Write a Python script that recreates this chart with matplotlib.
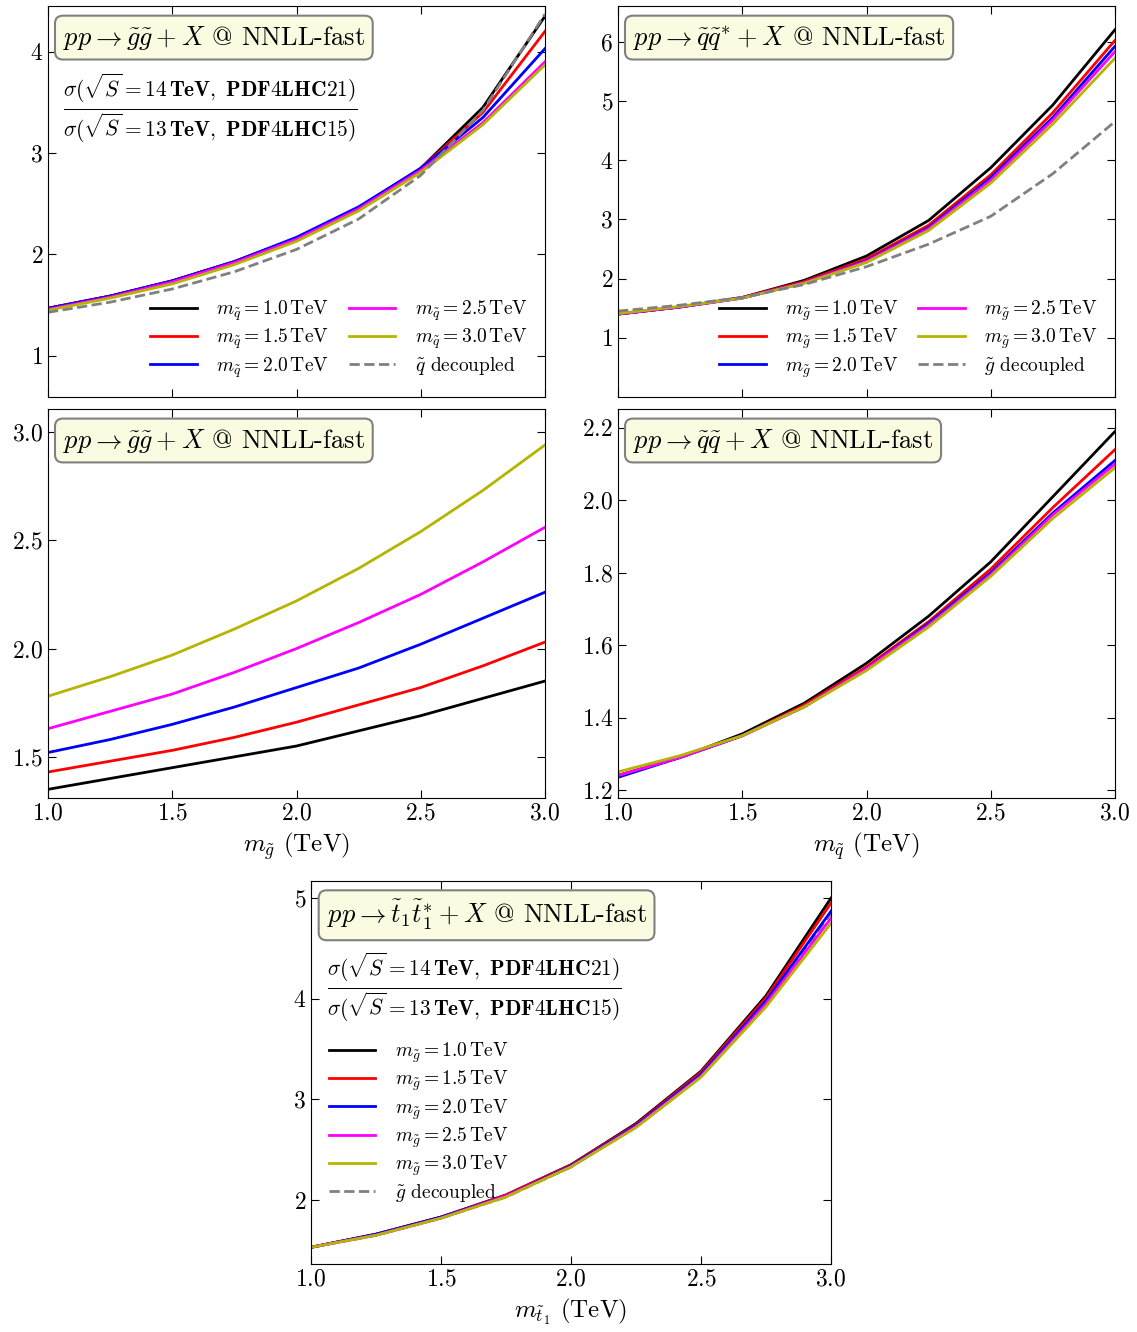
import matplotlib
matplotlib.use("Agg")
import matplotlib.pyplot as plt
import numpy as np

plt.rcParams['font.family'] = 'serif'
plt.rcParams['font.serif'] = ['cmr10']
plt.rcParams['mathtext.fontset'] = 'cm'
plt.rcParams['axes.formatter.use_mathtext'] = True

x = [1.0, 1.25, 1.5, 1.75, 2.0, 2.25, 2.5, 2.75, 3.0]
colors = ['black', 'red', 'blue', 'magenta', '#b5b500']
masses = ['1.0', '1.5', '2.0', '2.5', '3.0']

# gluino pair, vs gluino mass, lines = squark masses
gg_top = [
    [1.47, 1.59, 1.74, 1.93, 2.16, 2.46, 2.85, 3.45, 4.35],
    [1.47, 1.59, 1.74, 1.93, 2.16, 2.46, 2.85, 3.40, 4.20],
    [1.47, 1.59, 1.74, 1.93, 2.17, 2.47, 2.85, 3.35, 4.03],
    [1.46, 1.58, 1.73, 1.92, 2.15, 2.45, 2.83, 3.30, 3.90],
    [1.45, 1.57, 1.71, 1.90, 2.13, 2.43, 2.81, 3.28, 3.87],
]
gg_top_dec = [1.43, 1.53, 1.66, 1.83, 2.05, 2.35, 2.78, 3.42, 4.37]

# squark-antisquark, vs squark mass, lines = gluino masses
qqb_top = [
    [1.40, 1.52, 1.68, 1.97, 2.38, 2.98, 3.87, 4.93, 6.20],
    [1.40, 1.52, 1.68, 1.95, 2.33, 2.90, 3.75, 4.80, 6.02],
    [1.40, 1.52, 1.67, 1.93, 2.30, 2.86, 3.70, 4.72, 5.92],
    [1.40, 1.52, 1.67, 1.93, 2.29, 2.84, 3.66, 4.68, 5.83],
    [1.41, 1.53, 1.67, 1.92, 2.27, 2.81, 3.61, 4.61, 5.72],
]
qqb_top_dec = [1.45, 1.55, 1.68, 1.90, 2.20, 2.58, 3.05, 3.77, 4.65]

# gluino pair, vs squark mass, lines = gluino masses
gg_mid = [
    [1.35, 1.40, 1.45, 1.50, 1.55, 1.62, 1.69, 1.77, 1.85],
    [1.43, 1.48, 1.53, 1.59, 1.66, 1.74, 1.82, 1.92, 2.03],
    [1.52, 1.58, 1.65, 1.73, 1.82, 1.91, 2.02, 2.14, 2.26],
    [1.63, 1.71, 1.79, 1.89, 2.00, 2.12, 2.25, 2.40, 2.56],
    [1.78, 1.87, 1.97, 2.09, 2.22, 2.37, 2.54, 2.73, 2.94],
]

# squark-squark, vs squark mass, lines = gluino masses
qq_mid = [
    [1.24, 1.29, 1.355, 1.44, 1.55, 1.68, 1.83, 2.01, 2.19],
    [1.24, 1.29, 1.35, 1.435, 1.54, 1.665, 1.81, 1.98, 2.14],
    [1.235, 1.29, 1.35, 1.43, 1.535, 1.66, 1.80, 1.965, 2.11],
    [1.24, 1.29, 1.35, 1.43, 1.535, 1.655, 1.795, 1.96, 2.10],
    [1.25, 1.295, 1.35, 1.43, 1.53, 1.65, 1.79, 1.95, 2.09],
]

# stop pair, vs stop mass, lines = gluino masses
tt_bot = [
    [1.53, 1.66, 1.83, 2.05, 2.35, 2.76, 3.28, 4.03, 5.00],
    [1.53, 1.66, 1.83, 2.05, 2.35, 2.75, 3.27, 4.01, 4.95],
    [1.53, 1.66, 1.83, 2.04, 2.34, 2.74, 3.25, 3.98, 4.87],
    [1.53, 1.65, 1.82, 2.04, 2.33, 2.73, 3.23, 3.95, 4.80],
    [1.53, 1.65, 1.82, 2.03, 2.33, 2.72, 3.22, 3.92, 4.75],
]
tt_bot_dec = [1.53, 1.65, 1.82, 2.03, 2.33, 2.73, 3.23, 3.94, 4.85]

W, H = 1137, 1332
fig = plt.figure(figsize=(W / 100, H / 100), dpi=100)

def make_ax(x0, y0, x1, y1):
    ax = fig.add_axes([x0 / W, 1 - y1 / H, (x1 - x0) / W, (y1 - y0) / H])
    ax.tick_params(direction='in', top=True, right=True, labelsize=17, length=6)
    ax.set_xlim(1.0, 3.0)
    ax.set_xticks([1.0, 1.5, 2.0, 2.5, 3.0])
    return ax

def title_box(ax, s):
    ax.text(0.03, 0.955, s, transform=ax.transAxes, fontsize=19, va='top', ha='left',
            bbox=dict(boxstyle='round,pad=0.3', fc='#fbfbe2', ec='gray', lw=1.5))

ratio = (r'$\frac{\sigma(\sqrt{S}=\mathbf{14\,TeV,\ PDF4LHC21})}'
         r'{\sigma(\sqrt{S}=\mathbf{13\,TeV,\ PDF4LHC15})}$')

leg_kw = dict(frameon=False, fontsize=14, handlelength=2.4, labelspacing=0.2,
              handletextpad=1.0)

# top left
ax = make_ax(48, 6, 545, 397)
for ys, c, m in zip(gg_top, colors, masses):
    ax.plot(x, ys, color=c, lw=2, label=r'$m_{\tilde{q}}=%s\,\mathrm{TeV}$' % m)
ax.plot(x, gg_top_dec, color='gray', ls='--', lw=2, label=r'$\tilde{q}$ decoupled')
ax.set_ylim(0.595, 4.45)
ax.set_yticks([1, 2, 3, 4])
ax.tick_params(labelbottom=False)
title_box(ax, r'$pp\to\tilde{g}\tilde{g}+X$ @ NNLL-fast')
ax.text(0.03, 0.74, ratio, transform=ax.transAxes, fontsize=22, va='center')
ax.legend(loc='lower right', ncol=2, columnspacing=1.0, **leg_kw)

# top right
ax = make_ax(618, 6, 1115, 397)
for ys, c, m in zip(qqb_top, colors, masses):
    ax.plot(x, ys, color=c, lw=2, label=r'$m_{\tilde{g}}=%s\,\mathrm{TeV}$' % m)
ax.plot(x, qqb_top_dec, color='gray', ls='--', lw=2, label=r'$\tilde{g}$ decoupled')
ax.set_ylim(0.0, 6.6)
ax.set_yticks([1, 2, 3, 4, 5, 6])
ax.tick_params(labelbottom=False)
title_box(ax, r'$pp\to\tilde{q}\tilde{q}^{*}+X$ @ NNLL-fast')
ax.legend(loc='lower right', ncol=2, columnspacing=1.0, **leg_kw)

# middle left
ax = make_ax(48, 409, 545, 798)
for ys, c in zip(gg_mid, colors):
    ax.plot(x, ys, color=c, lw=2)
ax.set_ylim(1.31, 3.106)
ax.set_yticks([1.5, 2.0, 2.5, 3.0])
title_box(ax, r'$pp\to\tilde{g}\tilde{g}+X$ @ NNLL-fast')
ax.set_xlabel(r'$m_{\tilde{g}}$ (TeV)', fontsize=18)

# middle right
ax = make_ax(618, 409, 1115, 798)
for ys, c in zip(qq_mid, colors):
    ax.plot(x, ys, color=c, lw=2)
ax.set_ylim(1.178, 2.252)
ax.set_yticks([1.2, 1.4, 1.6, 1.8, 2.0, 2.2])
title_box(ax, r'$pp\to\tilde{q}\tilde{q}+X$ @ NNLL-fast')
ax.set_xlabel(r'$m_{\tilde{q}}$ (TeV)', fontsize=18)

# bottom
ax = make_ax(311, 881, 831, 1264)
ax.plot(x, tt_bot_dec, color='gray', ls='--', lw=2)
for ys, c, m in zip(tt_bot, colors, masses):
    ax.plot(x, ys, color=c, lw=2, label=r'$m_{\tilde{g}}=%s\,\mathrm{TeV}$' % m)
ax.plot([], [], color='gray', ls='--', lw=2, label=r'$\tilde{g}$ decoupled')
ax.set_ylim(1.364, 5.17)
ax.set_yticks([2, 3, 4, 5])
title_box(ax, r'$pp\to\tilde{t}_1\tilde{t}_1^{*}+X$ @ NNLL-fast')
ax.text(0.03, 0.725, ratio, transform=ax.transAxes, fontsize=22, va='center')
ax.legend(loc='upper left', bbox_to_anchor=(0.0, 0.63), **leg_kw)
ax.set_xlabel(r'$m_{\tilde{t}_1}$ (TeV)', fontsize=18)

fig.savefig('out.png', dpi=100)
